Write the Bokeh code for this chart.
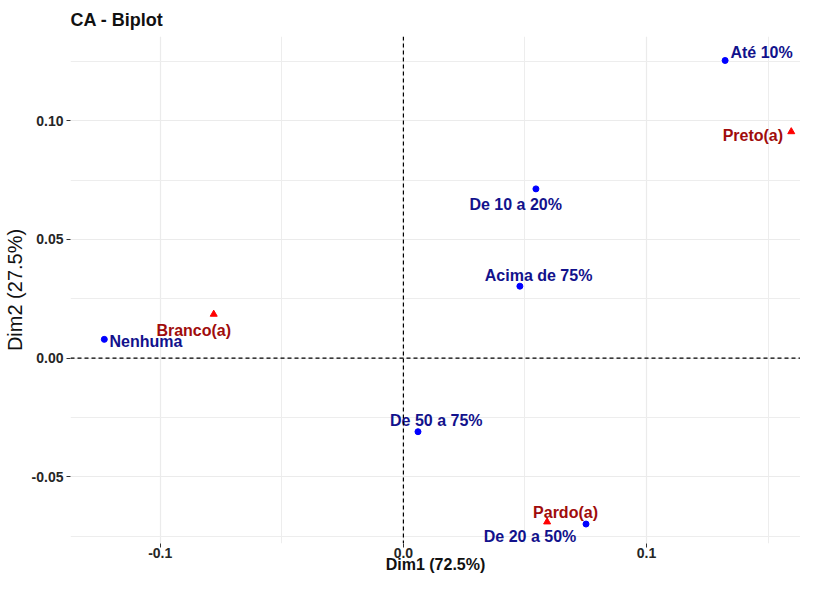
from bokeh.plotting import figure
from bokeh.models import Range1d, FixedTicker, NumeralTickFormatter, Span, ColumnDataSource
from bokeh.embed import file_html
from bokeh.resources import INLINE
from bokeh.core.properties import value

# Column points (blue circles)
col_names = ["Até 10%", "De 10 a 20%", "Acima de 75%", "Nenhuma", "De 50 a 75%", "De 20 a 50%"]
col_dim1 = [0.1323, 0.0545, 0.0479, -0.1230, 0.0060, 0.0751]
col_dim2 = [0.1254, 0.0713, 0.0303, 0.0079, -0.0310, -0.0699]
col_dx = [36.5, -20.2, 18.7, 41.7, 18.3, -56.0]
col_dy = [-7.6, 16.0, -10.7, 2.3, -10.8, 12.0]

# Row points (red triangles)
row_names = ["Preto(a)", "Branco(a)", "Pardo(a)"]
row_dim1 = [0.1595, -0.0780, 0.0591]
row_dim2 = [0.0954, 0.0185, -0.0690]
row_dx = [-38.4, -20.0, 18.4]
row_dy = [4.0, 16.0, -9.0]

x_ticks = [-0.1, 0.0, 0.1]
x_minor = [-0.05, 0.05, 0.15]
y_ticks = [-0.05, 0.0, 0.05, 0.10]
y_minor = [-0.075, -0.025, 0.025, 0.075, 0.125]

FONT = "Liberation Sans"

p = figure(width=800, height=575, output_backend="svg", toolbar_location=None,
           x_range=Range1d(-0.1369, 0.1633), y_range=Range1d(-0.0781, 0.1355),
           min_border_left=62, min_border_right=0, min_border_top=0, min_border_bottom=0)
p.outline_line_color = None
p.background_fill_color = "white"
p.border_fill_color = "white"

p.title.text = "CA - Biplot"
p.title.text_font = FONT
p.title.text_font_size = "18px"
p.title.text_font_style = "bold"
p.title.text_color = "#111111"
p.title.standoff = 14
p.title.offset = 0

for ax in (p.xaxis[0], p.yaxis[0]):
    ax.axis_line_color = None
    ax.major_tick_in = 0
    ax.major_tick_out = 4
    ax.major_tick_line_color = "#333333"
    ax.minor_tick_line_color = None
    ax.major_label_text_font = FONT
    ax.major_label_text_font_size = "14px"
    ax.major_label_text_font_style = "bold"
    ax.major_label_text_color = "#262626"
    ax.axis_label_text_font = FONT
    ax.axis_label_text_color = "#111111"
    ax.axis_label_text_line_height = 1.0
    ax.major_label_text_line_height = 1.0

p.xaxis.ticker = FixedTicker(ticks=x_ticks, minor_ticks=x_minor)
p.yaxis.ticker = FixedTicker(ticks=y_ticks, minor_ticks=y_minor)
p.xaxis.formatter = NumeralTickFormatter(format="0.0")
p.yaxis.formatter = NumeralTickFormatter(format="0.00")
p.xaxis.axis_label = "Dim1 (72.5%)"
p.yaxis.axis_label = "Dim2 (27.5%)"
p.xaxis.axis_label_text_font_size = "16px"
p.yaxis.axis_label_text_font_size = "20px"
p.xaxis.axis_label_text_font_style = "bold"
p.yaxis.axis_label_text_font_style = "normal"
p.xaxis.major_label_standoff = 0
p.xaxis.axis_label_standoff = -5
p.yaxis.major_label_standoff = 3
p.yaxis.axis_label_standoff = 3

for g in (p.xgrid[0], p.ygrid[0]):
    g.grid_line_color = "#ebebeb"
    g.grid_line_width = 1.2
    g.minor_grid_line_color = "#ededed"
    g.minor_grid_line_width = 1.0

p.add_layout(Span(location=0, dimension="height", line_color="black", line_width=1.2, line_dash="4 3"))
p.add_layout(Span(location=0, dimension="width", line_color="black", line_width=1.2, line_dash="4 3"))

col_src = ColumnDataSource(dict(x=col_dim1, y=col_dim2, name=col_names, dx=col_dx, dy=col_dy))
row_src = ColumnDataSource(dict(x=row_dim1, y=row_dim2, name=row_names, dx=row_dx, dy=row_dy))

p.scatter("x", "y", source=col_src, marker="circle", size=6, fill_color="#0000ff", line_color="#0000ff")
p.scatter("x", "y", source=row_src, marker="triangle", size=7, fill_color="#ff0000", line_color="#ff0000")

p.text("x", "y", text="name", source=col_src, x_offset="dx", y_offset="dy",
       text_align="center", text_baseline="middle", text_font=value(FONT),
       text_font_size="16px", text_font_style="bold", text_color="#12128c")
p.text("x", "y", text="name", source=row_src, x_offset="dx", y_offset="dy",
       text_align="center", text_baseline="middle", text_font=value(FONT),
       text_font_size="16px", text_font_style="bold", text_color="#a00c0c")

open("out.html", "w").write(file_html(p, INLINE))
